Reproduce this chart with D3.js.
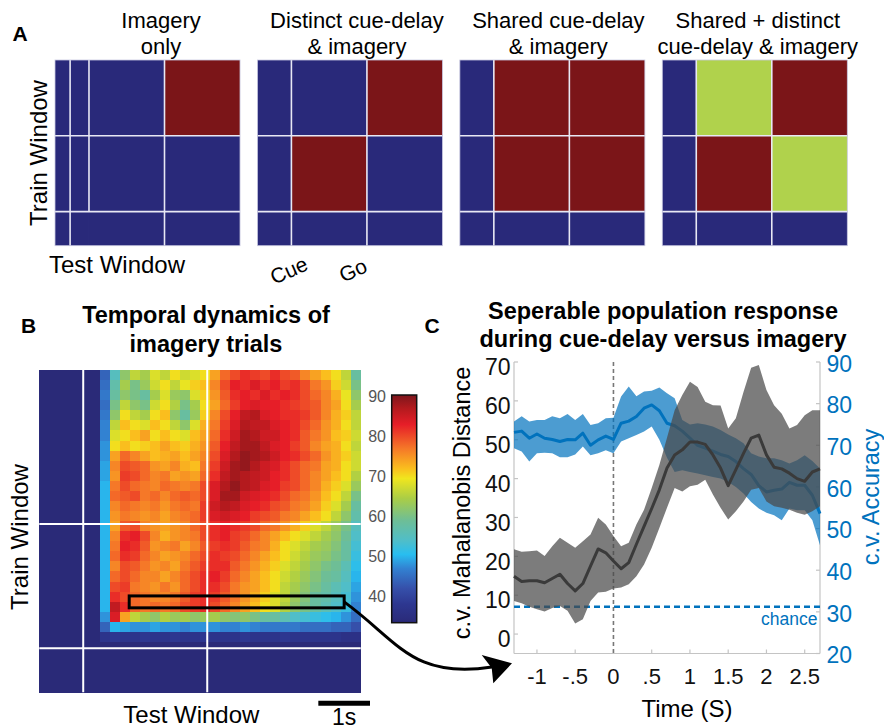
<!DOCTYPE html>
<html><head><meta charset="utf-8">
<script src="https://cdn.jsdelivr.net/npm/d3@7"></script>
<style>
body{margin:0;background:#fff}
svg{display:block}
text{font-family:"Liberation Sans",Arial,Helvetica,sans-serif}
</style>
</head><body>
<svg id="fig" width="884" height="728"></svg>
<script>
// ---------------- DATA ----------------
// Panel A
const panelATitles = [["Imagery","only"],["Distinct cue-delay","& imagery"],["Shared cue-delay","& imagery"],["Shared + distinct","cue-delay & imagery"]];
const epochNames = ["Pre","Cue","Go"];
const epochDurations = [0.9, 2.0, 2.0];
// matrixCodes[m][trainEpoch][testEpoch]: 0 = none, 1 = decodable, 2 = decodable (distinct)
const matrixCodes = [
  [[0,0,0],[0,0,0],[0,0,1]],
  [[0,0,0],[0,1,0],[0,0,1]],
  [[0,0,0],[0,1,1],[0,1,1]],
  [[0,0,0],[0,1,2],[0,2,1]]
];
const matrixDividers = [
  [{t:0.4,from:0},{t:0.9,from:0.9},{t:2.9,from:0}],
  [{t:0.9,from:0},{t:2.9,from:0}],
  [{t:0.9,from:0},{t:2.9,from:0}],
  [{t:0.9,from:0},{t:2.9,from:0}]
];
const cueLabels = ["Cue","Go"];

// Panel B: accuracy grid (rows top->bottom r0..r26, columns c6..c31); everything else is background
const heatBackground = 30;
const heatRows = [
 [44,55,62,66,64,68,66,70,67,68,70,74,78,80,82,81,80,82,80,79,76,74,72,70,66,58],
 [45,57,64,60,63,67,70,66,69,71,72,76,80,83,82,84,82,83,81,82,80,77,75,71,67,60],
 [46,58,62,60,58,64,68,63,62,68,71,75,79,82,83,82,84,82,83,82,80,78,76,73,69,62],
 [45,60,66,62,60,67,70,65,60,64,70,74,78,81,83,84,83,83,82,81,80,79,76,74,70,64],
 [46,62,70,66,64,70,72,62,58,63,71,76,80,83,86,87,84,83,82,82,81,79,76,73,71,66],
 [47,66,72,70,68,72,70,66,62,68,73,77,81,84,87,86,86,84,83,82,80,78,75,73,70,66],
 [47,68,70,72,74,70,72,70,68,72,74,78,82,85,88,87,85,85,83,82,79,77,75,72,71,67],
 [48,70,72,70,71,72,74,72,71,73,75,79,83,86,88,88,86,84,83,81,79,76,74,73,70,66],
 [48,74,78,76,74,72,73,74,72,74,76,80,84,87,89,88,87,85,83,82,80,78,75,73,71,67],
 [49,76,80,79,78,75,74,76,73,72,77,81,85,88,89,87,85,84,82,80,78,77,74,73,70,67],
 [49,75,81,80,78,76,77,74,75,74,78,82,86,88,87,86,85,83,82,80,78,76,74,72,70,65],
 [50,77,80,78,77,76,78,77,76,77,80,84,87,89,87,86,84,83,81,80,78,76,73,71,68,63],
 [50,78,79,80,77,78,76,78,79,78,80,84,88,88,85,84,83,82,80,78,77,75,72,70,66,60],
 [50,76,78,77,76,77,75,77,78,77,81,85,87,86,84,83,82,80,79,77,76,74,71,68,64,58],
 [50,75,77,76,75,76,74,76,77,78,81,84,85,84,83,81,80,79,77,76,74,72,70,66,62,57],
 [50,74,79,80,76,75,74,75,76,78,80,82,83,82,81,80,78,77,75,73,71,68,66,63,60,55],
 [50,76,82,83,80,76,73,75,76,77,80,82,83,81,80,78,76,74,72,70,68,66,64,62,59,54],
 [50,77,83,82,79,75,76,77,74,76,79,81,82,81,79,77,76,73,70,68,66,64,63,61,58,53],
 [50,78,82,81,78,76,74,75,76,78,80,82,81,80,78,76,74,72,70,67,65,63,62,60,58,52],
 [50,76,80,79,77,75,76,74,77,79,81,82,82,79,77,75,73,71,68,66,64,62,60,59,56,51],
 [50,78,80,78,76,76,74,76,78,80,82,83,81,78,76,74,72,70,67,65,63,61,59,58,55,50],
 [50,80,81,77,76,75,77,75,78,80,82,82,80,77,75,74,72,70,66,64,62,60,58,56,54,49],
 [50,82,80,78,77,76,76,77,79,81,82,81,79,77,75,73,71,68,66,63,61,58,57,55,53,48],
 [50,86,82,78,77,78,77,78,80,81,82,80,78,76,74,72,70,68,65,62,60,58,56,54,52,47],
 [48,84,74,66,64,62,65,63,64,62,63,64,62,61,62,60,58,58,56,54,53,52,51,50,48,45],
 [44,50,49,48,48,49,48,48,47,48,48,48,47,47,48,47,46,46,46,46,45,45,45,44,44,42],
 [37,38,37,37,38,37,37,38,37,37,38,37,37,37,38,37,37,37,38,37,37,37,37,37,36,36]
];
const heatFirstCol = 6;
const heatGridSize = 32;
const heatTimeRange = [-3.25, 2.97];
const heatEventTimes = [-2.4, 0];
const highlight = {trainFrom:-1.62, trainTo:-1.39, testFrom:-1.51, testTo:2.65};
const colorbarTicks = [40,50,60,70,80,90];
const colorbarRange = [33.4, 90.4];
const heatColorStops = [33.4, 38, 42, 47, 50.5, 54, 59, 64.5, 69.5, 72, 77, 83, 87, 90.4];
const scaleBarSeconds = [2.15, 3.15];

// Panel C
const times = [-1.3,-1.2,-1.1,-1.0,-0.9,-0.8,-0.7,-0.6,-0.5,-0.4,-0.3,-0.2,-0.1,0,0.1,0.2,0.3,0.4,0.5,0.6,0.7,0.8,0.9,1.0,1.1,1.2,1.3,1.4,1.5,1.6,1.7,1.8,1.9,2.0,2.1,2.2,2.3,2.4,2.5,2.6,2.7];
const accMean  = [73.1,73.4,71.7,72.7,71.7,71.4,70.9,71.4,71.3,72.9,70.0,71.3,72.2,71.4,75.3,75.8,76.9,78.9,79.7,78.3,75.3,74.7,73.4,71.7,70.0,69.3,68.6,67.8,67.3,66.1,64.4,63.0,60.3,58.8,59.2,59.5,61.1,60.4,60.4,58.0,53.6];
const accUpper = [75.7,77.0,75.7,76.1,76.1,77.0,76.5,77.5,76.1,77.5,74.9,75.3,76.5,76.6,81.7,84.1,81.8,82.9,83.1,83.9,82.5,81.3,76.1,75.0,75.3,75.0,74.5,73.7,72.6,71.7,70.5,68.1,67.3,66.9,66.9,66.4,65.6,66.4,67.6,66.2,64.4];
const accLower = [69.3,68.5,66.1,68.1,68.2,68.1,67.1,67.1,67.8,69.7,67.6,68.1,68.8,68.1,70.9,71.7,72.5,73.3,74.5,71.3,67.0,63.6,64.0,63.6,63.2,62.8,62.4,62.0,61.2,60.0,58.4,56.4,54.8,53.8,53.2,52.0,54.8,54.4,54.4,52.0,46.0];
const distMean  = [14.9,13.5,13.7,13.7,13.2,14.3,15.4,13.0,11.1,13.0,17.5,21.9,20.9,18.8,16.8,18.4,23.1,27.7,32.3,37.1,42.7,46.1,47.4,49.4,49.4,48.8,46.1,42.7,38.2,42.3,46.5,50.4,51.2,46.1,42.9,42.5,41.4,40.0,39.3,41.7,42.5];
const distUpper = [21.8,21.2,21.3,21.5,20.1,22.6,24.8,23.5,22.2,23.9,25.6,29.9,28.2,25.2,22.6,23.5,28.2,32.0,37.6,43.5,50.5,57.6,61.5,64.9,63.6,59.8,58.9,58.8,52.9,55.5,62.3,68.5,69.2,62.8,58.9,56.7,52.9,53.8,56.3,57.6,57.6];
const distLower = [8.5,7.9,7.0,6.4,5.8,6.7,7.2,6.0,2.7,3.8,8.5,10.7,10.9,11.7,12.0,12.8,14.9,17.9,22.2,27.3,32.5,37.6,36.7,38.0,38.4,39.7,35.9,32.5,29.5,31.6,34.1,37.1,37.6,34.1,32.9,32.5,32.0,31.2,30.7,31.6,32.9];
const chanceAcc = 31.2;
const timeTicks = [-1,-0.5,0,0.5,1,1.5,2,2.5];
const timeTickLabels = ["-1","-.5","0",".5","1","1.5","2","2.5"];
const distTicks = [0,10,20,30,40,50,60,70];
const accTicks = [20,30,40,50,60,70,80,90];
const timeDomain = [-1.3, 2.7];
const distDomain = [-5, 70];
const accDomain = [20, 90];

// ---------------- STYLE ----------------
const NAVY = "#29297a", DRED = "#7b1518", LGREEN = "#b0d24c";
const codeColors = [NAVY, DRED, LGREEN];
const heatColors = ["#2a2a78","#2d3790","#3650aa","#3282d2","#28bef0","#50bec8","#6ebe96","#aacd46","#f0e61e","#fabe1e","#f57828","#e61e28","#b41a1e","#7d161c"];
const BLUE = "#0072BD";

const svg = d3.select("#fig");
svg.append("rect").attr("width",884).attr("height",728).attr("fill","#fff");

// ---------------- PANEL A ----------------
const total = d3.sum(epochDurations);
const epochStarts = epochDurations.map((d,i)=>d3.sum(epochDurations.slice(0,i)));
const aBand = d3.scaleBand().domain(d3.range(4)).range([55, 847.3]).paddingInner(0.086);
const aY = d3.scaleLinear().domain([0,total]).range([245.7, 60]);
const titleShift = [13.5, 7, 6, 3];

svg.append("text").text("A").attr("x",12.5).attr("y",40.7).attr("font-size",21).attr("font-weight","bold");

matrixCodes.forEach((mat, m) => {
  const g = svg.append("g");
  const xs = d3.scaleLinear().domain([0,total]).range([aBand(m), aBand(m)+aBand.bandwidth()]);
  mat.forEach((row, r) => row.forEach((code, c) => {
    g.append("rect")
      .attr("x", xs(epochStarts[c])).attr("y", aY(epochStarts[r]+epochDurations[r]))
      .attr("width", xs(epochStarts[c]+epochDurations[c]) - xs(epochStarts[c]))
      .attr("height", aY(epochStarts[r]) - aY(epochStarts[r]+epochDurations[r]))
      .attr("fill", codeColors[code]);
  }));
  matrixDividers[m].forEach(d => {
    g.append("line").attr("x1", xs(d.t)).attr("x2", xs(d.t))
      .attr("y1", aY(d.from)).attr("y2", aY(total))
      .attr("stroke","#e8e8f4").attr("stroke-width",1.6);
  });
  epochStarts.slice(1).forEach(t => {
    g.append("line").attr("x1", xs(0)).attr("x2", xs(total))
      .attr("y1", aY(t)).attr("y2", aY(t))
      .attr("stroke","#e8e8f4").attr("stroke-width",1.6);
  });
  g.append("rect").attr("x", xs(0)).attr("y", aY(total))
    .attr("width", xs(total)-xs(0)).attr("height", aY(0)-aY(total))
    .attr("fill","none").attr("stroke","#c8c8e0").attr("stroke-width",0.8);
  const cx = aBand(m) + aBand.bandwidth()/2 + titleShift[m];
  panelATitles[m].forEach((line, i) => {
    svg.append("text").text(line).attr("x", cx).attr("y", 27.7 + i*26.3)
      .attr("text-anchor","middle").attr("font-size",22);
  });
});
svg.append("text").text("Train Window")
  .attr("transform","translate(46.5,153) rotate(-90)")
  .attr("text-anchor","middle").attr("font-size",24);
svg.append("text").text("Test Window").attr("x",49).attr("y",273).attr("font-size",24);
{
  const xs2 = d3.scaleLinear().domain([0,total]).range([aBand(1), aBand(1)+aBand.bandwidth()]);
  const cuePos = [xs2(epochStarts[1]) + 0.5, xs2(epochStarts[2]) - 11];
  cueLabels.forEach((lab, i) => {
    svg.append("text").text(lab)
      .attr("transform", `translate(${cuePos[i]},277) rotate(-24)`)
      .attr("text-anchor","middle").attr("font-size",21);
  });
}

// ---------------- PANEL B ----------------
const HX0 = 39.3, HX1 = 360.7, HY0 = 370, HY1 = 692.3;
const hx = d3.scaleBand().domain(d3.range(heatGridSize)).range([HX0, HX1]);
const hy = d3.scaleBand().domain(d3.range(heatGridSize)).range([HY0, HY1]);
const testT = d3.scaleLinear().domain(heatTimeRange).range([HX0, HX1]);
const trainT = d3.scaleLinear().domain(heatTimeRange).range([HY1, HY0]);
const heatColor = d3.scaleLinear().domain(heatColorStops).range(heatColors).clamp(true);

const cells = [];
for (let r = 0; r < heatGridSize; r++) for (let c = 0; c < heatGridSize; c++) {
  let v = heatBackground;
  if (r < heatRows.length && c >= heatFirstCol) v = heatRows[r][c - heatFirstCol];
  cells.push({r, c, v});
}
svg.append("g").selectAll("rect").data(cells).join("rect")
  .attr("x", d => hx(d.c)).attr("y", d => hy(d.r))
  .attr("width", hx.bandwidth()+0.5).attr("height", hy.bandwidth()+0.5)
  .attr("fill", d => heatColor(d.v)).attr("shape-rendering","crispEdges");

heatEventTimes.forEach(t => {
  svg.append("line").attr("x1", testT(t)).attr("x2", testT(t)).attr("y1", HY0).attr("y2", HY1)
    .attr("stroke","#fff").attr("stroke-width",2);
  svg.append("line").attr("y1", trainT(t)).attr("y2", trainT(t)).attr("x1", HX0).attr("x2", HX1)
    .attr("stroke","#fff").attr("stroke-width",2);
});
svg.append("rect")
  .attr("x", testT(highlight.testFrom)).attr("y", trainT(highlight.trainTo))
  .attr("width", testT(highlight.testTo)-testT(highlight.testFrom))
  .attr("height", trainT(highlight.trainFrom)-trainT(highlight.trainTo))
  .attr("fill","none").attr("stroke","#000").attr("stroke-width",3);

svg.append("text").text("B").attr("x",21).attr("y",333.3).attr("font-size",21).attr("font-weight","bold");
["Temporal dynamics of","imagery trials"].forEach((l,i)=>{
  svg.append("text").text(l).attr("x",206).attr("y",323+i*28.7)
    .attr("text-anchor","middle").attr("font-size",23.5).attr("font-weight","bold");
});
svg.append("text").text("Train Window")
  .attr("transform","translate(28,537) rotate(-90)")
  .attr("text-anchor","middle").attr("font-size",24);
svg.append("text").text("Test Window").attr("x",123.3).attr("y",723).attr("font-size",24);
// scale bar
svg.append("line").attr("x1", testT(scaleBarSeconds[0])).attr("x2", testT(scaleBarSeconds[1]))
  .attr("y1",703.3).attr("y2",703.3).attr("stroke","#000").attr("stroke-width",5);
svg.append("text").text("1s").attr("x", (testT(scaleBarSeconds[0])+testT(scaleBarSeconds[1]))/2)
  .attr("y",724.5).attr("text-anchor","middle").attr("font-size",23);

// colorbar
const CBX = 391.7, CBW = 25;
const cbY = d3.scaleLinear().domain(colorbarRange).range([622.7, 395]);
const defs = svg.append("defs");
const grad = defs.append("linearGradient").attr("id","jetg").attr("x1",0).attr("y1",1).attr("x2",0).attr("y2",0);
heatColorStops.forEach((v,i)=>{
  grad.append("stop").attr("offset", (v-colorbarRange[0])/(colorbarRange[1]-colorbarRange[0]))
    .attr("stop-color", heatColors[i]);
});
svg.append("rect").attr("x",CBX).attr("y",cbY(colorbarRange[1])).attr("width",CBW)
  .attr("height", cbY(colorbarRange[0])-cbY(colorbarRange[1]))
  .attr("fill","url(#jetg)").attr("stroke","#111").attr("stroke-width",1.5);
colorbarTicks.forEach(v=>{
  svg.append("text").text(v).attr("x",386).attr("y",cbY(v)).attr("dy","0.36em")
    .attr("text-anchor","end").attr("font-size",16).attr("fill","#555");
});

// ---------------- PANEL C ----------------
const PX0 = 514, PX1 = 820, PY0 = 362, PY1 = 653.5;
const cx = d3.scaleLinear().domain(timeDomain).range([PX0, PX1]);
const cyL = d3.scaleLinear().domain(distDomain).range([PY1, PY0]);
const cyR = d3.scaleLinear().domain(accDomain).range([PY1, PY0]);
const AX = "#c4c4c4";

const accData = times.map((t,i)=>({t, m:accMean[i], u:accUpper[i], l:accLower[i]}));
const distData = times.map((t,i)=>({t, m:distMean[i], u:distUpper[i], l:distLower[i]}));

// axes lines
const gc = svg.append("g");
gc.append("line").attr("x1",PX0).attr("x2",PX0).attr("y1",PY0).attr("y2",PY1).attr("stroke",AX).attr("stroke-width",1.2);
gc.append("line").attr("x1",PX1).attr("x2",PX1).attr("y1",PY0).attr("y2",PY1).attr("stroke",AX).attr("stroke-width",1.2);
gc.append("line").attr("x1",PX0).attr("x2",PX1).attr("y1",PY1).attr("y2",PY1).attr("stroke",AX).attr("stroke-width",1.2);
distTicks.forEach(v=>{
  gc.append("line").attr("x1",PX0).attr("x2",PX0+4).attr("y1",cyL(v)).attr("y2",cyL(v)).attr("stroke",AX).attr("stroke-width",1.2);
  gc.append("text").text(v).attr("x",510.5).attr("y",cyL(v)+5).attr("dy","0.36em")
    .attr("text-anchor","end").attr("font-size",23).attr("fill","#111");
});
accTicks.forEach(v=>{
  gc.append("line").attr("x1",PX1-4).attr("x2",PX1).attr("y1",cyR(v)).attr("y2",cyR(v)).attr("stroke",AX).attr("stroke-width",1.2);
  gc.append("text").text(v).attr("x",826.5).attr("y",cyR(v)+1.5).attr("dy","0.36em")
    .attr("text-anchor","start").attr("font-size",23).attr("fill",BLUE);
});
timeTicks.forEach((v,i)=>{
  gc.append("line").attr("x1",cx(v)).attr("x2",cx(v)).attr("y1",PY1).attr("y2",PY1-4).attr("stroke",AX).attr("stroke-width",1.2);
  gc.append("text").text(timeTickLabels[i]).attr("x",cx(v)).attr("y",683.5)
    .attr("text-anchor","middle").attr("font-size",22).attr("fill","#111");
});

// chance line
gc.append("line").attr("x1",PX0).attr("x2",PX1).attr("y1",cyR(chanceAcc)).attr("y2",cyR(chanceAcc))
  .attr("stroke",BLUE).attr("stroke-width",2.5).attr("stroke-dasharray","6,4");
gc.append("text").text("chance").attr("x",817.5).attr("y",625).attr("text-anchor","end")
  .attr("font-size",17.5).attr("fill",BLUE);
// zero line
gc.append("line").attr("x1",cx(0)).attr("x2",cx(0)).attr("y1",PY0).attr("y2",PY1)
  .attr("stroke","#777").attr("stroke-width",1.6).attr("stroke-dasharray","4,3");

// accuracy band and line
gc.append("path").datum(accData)
  .attr("d", d3.area().x(d=>cx(d.t)).y0(d=>cyR(d.l)).y1(d=>cyR(d.u)))
  .attr("fill",BLUE).attr("fill-opacity",0.7);
gc.append("path").datum(accData)
  .attr("d", d3.line().x(d=>cx(d.t)).y(d=>cyR(d.m)))
  .attr("fill","none").attr("stroke",BLUE).attr("stroke-width",3).attr("stroke-linejoin","round");
// distance band and line
gc.append("path").datum(distData)
  .attr("d", d3.area().x(d=>cx(d.t)).y0(d=>cyL(d.l)).y1(d=>cyL(d.u)))
  .attr("fill","#4a4a4a").attr("fill-opacity",0.72);
gc.append("path").datum(distData)
  .attr("d", d3.line().x(d=>cx(d.t)).y(d=>cyL(d.m)))
  .attr("fill","none").attr("stroke","#3a3a3a").attr("stroke-width",3).attr("stroke-linejoin","round");

// titles / labels
svg.append("text").text("C").attr("x",424.5).attr("y",333.3).attr("font-size",21).attr("font-weight","bold");
["Seperable population response","during cue-delay versus imagery"].forEach((l,i)=>{
  svg.append("text").text(l).attr("x",663).attr("y",319+i*27.7)
    .attr("text-anchor","middle").attr("font-size",23.5).attr("font-weight","bold");
});
svg.append("text").text("c.v. Mahalanobis Distance")
  .attr("transform","translate(469.5,503) rotate(-90)")
  .attr("text-anchor","middle").attr("font-size",23.5);
svg.append("text").text("c.v. Accuracy")
  .attr("transform","translate(879,497) rotate(-90)")
  .attr("text-anchor","middle").attr("font-size",23.5).attr("fill",BLUE);
svg.append("text").text("Time (S)").attr("x",687).attr("y",716.5)
  .attr("text-anchor","middle").attr("font-size",24);

// ---------------- ARROW ----------------
const aStart = [testT(highlight.testTo), (trainT(highlight.trainFrom)+trainT(highlight.trainTo))/2];
const aEnd = [PX0 - 22, 667];
svg.append("path")
  .attr("d", `M${aStart[0]},${aStart[1]} C${aStart[0]+55},${aStart[1]+40} ${aEnd[0]-80},${aEnd[1]+12} ${aEnd[0]},${aEnd[1]}`)
  .attr("fill","none").attr("stroke","#000").attr("stroke-width",3);
svg.append("path")
  .attr("d", `M512,663.3 L481.7,655 L491.7,668 L493.3,683.3 Z`)
  .attr("fill","#000");
</script>
</body></html>
